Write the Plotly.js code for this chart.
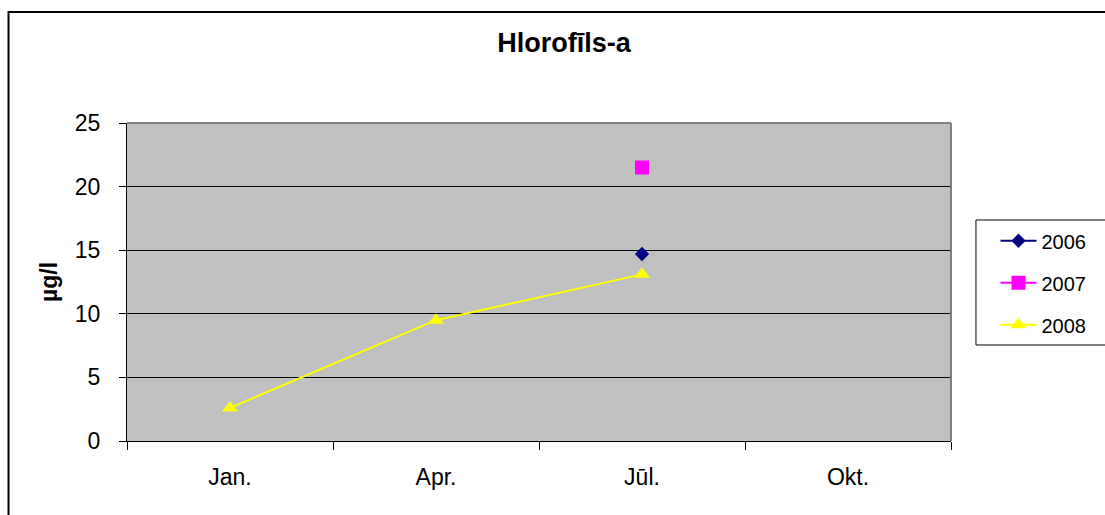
<!DOCTYPE html>
<html>
<head>
<meta charset="utf-8">
<script src="https://cdn.plot.ly/plotly-3.0.1.min.js"></script>
<style>html,body{margin:0;padding:0;background:#fff;}#chart{width:1105px;height:515px;}</style>
</head>
<body>
<div id="chart"></div>
<script>
var months = ['Jan.', 'Apr.', 'Jūl.', 'Okt.'];
var seriesNames = ['2006', '2007', '2008'];
var values2006 = [null, null, 14.7, null];
var values2007 = [null, null, 21.5, null];
var values2008 = [2.6, 9.5, 13.1, null];
var yTicks = [0, 5, 10, 15, 20, 25];

var FONT = 'Liberation Sans, Arial, sans-serif';

var traces = [
  {x: months, y: values2006, name: seriesNames[0], type: 'scatter', mode: 'lines+markers',
   legendgroup: 'a', line: {color: '#000080', width: 2},
   marker: {symbol: 'diamond', size: 11, color: '#000080'}},
  {x: months, y: values2007, name: seriesNames[1], type: 'scatter', mode: 'lines+markers',
   legendgroup: 'b', line: {color: '#FF00FF', width: 2},
   marker: {symbol: 'square', size: 14, color: '#FF00FF'}},
  {x: months, y: values2008, name: seriesNames[2], type: 'scatter', mode: 'lines+markers',
   legendgroup: 'c', line: {color: '#FFFF00', width: 2},
   marker: {symbol: 'triangle-up', size: 14, color: '#FFFF00'}}
];

var layout = {
  width: 1105, height: 515,
  margin: {l: 127, r: 154, t: 123, b: 74, pad: 0},
  paper_bgcolor: '#FFFFFF',
  plot_bgcolor: '#C0C0C0',
  font: {family: FONT, color: '#000000'},
  title: {text: 'Hlorofīls-a', font: {family: FONT, size: 27, color: '#000', weight: 'bold'},
          xref: 'container', x: 0.5104, xanchor: 'center', yref: 'container', y: 0.918, yanchor: 'middle'},
  showlegend: true,
  legend: {x: 1.054, xanchor: 'left', y: 0.691, yanchor: 'top', bgcolor: 'rgba(0,0,0,0)',
           borderwidth: 0, font: {family: FONT, size: 20, color: '#000'},
           traceorder: 'grouped', tracegroupgap: 13, itemwidth: 36},
  xaxis: {
    type: 'category', categoryorder: 'array', categoryarray: months,
    range: [-0.5, 3.5], tickson: 'boundaries', ticks: 'outside', ticklen: 8, tickcolor: '#000',
    tickwidth: 1, showline: true, linecolor: '#000', linewidth: 1, showgrid: false,
    zeroline: false, tickfont: {family: FONT, size: 23, color: '#000'}, ticklabelstandoff: 15,
    fixedrange: true
  },
  yaxis: {
    range: [0, 25], tickvals: yTicks, ticktext: yTicks.map(String), ticks: 'outside', ticklen: 7,
    tickcolor: '#000', tickwidth: 1, showline: true, linecolor: '#000', linewidth: 1,
    showgrid: true, gridcolor: '#000', gridwidth: 1, zeroline: false,
    tickfont: {family: FONT, size: 23, color: '#000'}, ticklabelstandoff: 14,
    title: {text: 'µg/l', font: {family: FONT, size: 23, color: '#000', weight: 'bold'}, standoff: 10},
    fixedrange: true
  },
  shapes: [
    {type: 'line', xref: 'paper', yref: 'paper', x0: 0, x1: 1, y0: 1, y1: 1, line: {color: '#808080', width: 2}},
    {type: 'line', xref: 'paper', yref: 'paper', x0: 1, x1: 1, y0: 0, y1: 1, line: {color: '#808080', width: 2}},
    {type: 'rect', xref: 'paper', yref: 'paper', x0: 1.0303, x1: 1.35, y0: 0.3019, y1: 0.695, line: {color: '#000', width: 1}},
    {type: 'rect', xref: 'paper', yref: 'paper', x0: -0.1438, x1: 1.5, y0: -1, y1: 1.349, line: {color: '#000', width: 2}}
  ]
};

Plotly.newPlot('chart', traces, layout, {displayModeBar: false, staticPlot: true});
</script>
</body>
</html>
